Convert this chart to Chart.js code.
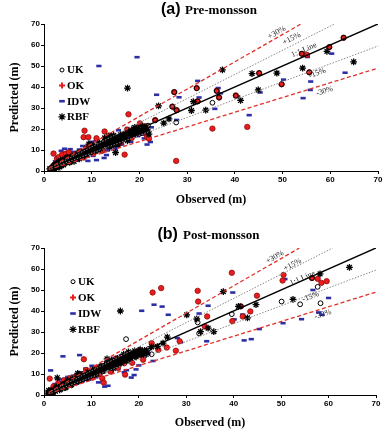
<!DOCTYPE html>
<html><head><meta charset="utf-8">
<script src="https://cdn.jsdelivr.net/npm/chart.js@4/dist/chart.umd.min.js"></script>
<style>
html,body{margin:0;padding:0;background:#fff;}
#wrap{position:relative;width:387px;height:433px;overflow:hidden;}
canvas{position:absolute;left:0;}
#c1{top:0}
#c2{top:216px}
</style></head><body>
<div id="wrap"><canvas id="c1" width="387" height="216"></canvas><canvas id="c2" width="387" height="217"></canvas></div>
<script>
// ---------- DATA ----------
const seriesNames = ['UK','OK','IDW','RBF'];
const refSlopes = [1.3, 1.15, 1, 0.85, 0.7];
const refLabels = ['+30%', '+15%', '1:1 Line', '-15%', '-30%'];
const axisMin = 0, axisMax = 70, axisStep = 10;

// (a) Pre-monsoon
const preUK = [[1.3,1.2],[1.8,2.3],[2.4,2.0],[2.9,3.6],[3.4,3.0],[3.9,4.6],[4.5,5.2],[5.1,4.4],[5.7,6.3],[6.3,6.9],[7.0,6.1],[7.7,8.3],[8.4,7.6],[9.1,9.8],[9.9,8.9],[10.6,11.4],[11.4,10.3],[12.1,12.9],[12.9,11.8],[13.7,14.6],[14.4,13.2],[15.2,15.9],[16.0,14.7],[16.8,17.2],[17.6,16.1],[18.5,19.1],[19.3,17.8],[20.2,20.6],[21.0,19.4],[21.8,21.6],
  [2.1,3.0],[3.6,2.4],[4.8,6.6],[6.0,4.9],[7.3,8.9],[8.8,8.2],[10.2,12.1],[11.8,11.1],[13.3,15.4],[14.8,12.5],[16.4,16.0],[18.0,18.3],[19.8,19.6],[21.4,20.5],
  [23.3,24.1],[26.9,30.6],[27.8,28.9],[27.3,37.5],[32.0,39.4],[32.2,33.1],[35.3,32.5],[27.7,23.1],[36.2,38.1],[36.7,35.0],[40.2,35.8],[45.1,46.6],[49.8,41.3],[54.0,55.8],[55.6,47.0],[59.8,59.0],[62.8,63.4]];
const preOK = [[1.6,1.4],[2.0,8.3],[2.3,3.1],[2.7,5.8],[3.1,6.6],[3.4,4.0],[3.8,7.9],[4.2,5.2],[4.6,8.3],[5.0,6.1],[5.5,7.4],[6.0,5.6],[6.6,8.0],[7.2,7.0],[7.8,9.3],[8.3,6.4],[8.5,19.2],[8.3,16.1],[9.3,16.1],[9.6,10.5],[10.4,8.6],[11.0,15.6],[11.5,11.9],[12.2,9.6],[12.7,18.8],[13.3,14.5],[14.1,12.8],[14.7,16.4],[15.5,14.3],[16.3,17.2],[16.9,7.8],[17.4,19.7],[17.7,27.0],[18.4,15.8],[19.3,20.6],[20.1,22.7],[20.9,18.5],[21.6,16.2],[22.0,15.4],
  [2.9,2.2],[4.0,4.1],[5.2,8.9],[6.8,6.0],[9.0,11.2],[10.9,10.1],[12.9,12.6],[13.8,16.9],[15.9,13.1],[17.9,18.9],[19.7,18.0],[21.2,21.3],
  [23.3,24.3],[27.3,37.6],[26.9,30.7],[27.8,29.0],[27.7,4.8],[32.0,39.5],[32.2,33.2],[35.3,20.2],[36.2,38.2],[36.7,35.0],[40.2,36.0],[42.6,21.0],[45.1,46.6],[49.8,41.3],[54.1,55.8],[55.1,55.3],[55.6,47.0],[59.8,59.0],[62.8,63.5]];
const preIDW = [[1.4,0.6],[1.9,2.2],[2.4,4.6],[2.8,1.9],[3.2,3.4],[3.6,9.6],[4.0,6.9],[4.3,10.6],[4.7,5.1],[5.2,3.6],[5.7,7.8],[6.2,9.1],[6.8,4.9],[7.4,10.2],[7.9,6.1],[8.6,8.5],[9.2,4.8],[9.7,13.9],[10.3,7.2],[11.0,5.2],[11.5,50.0],[11.9,10.8],[12.6,6.2],[13.1,7.6],[13.6,12.3],[14.2,17.1],[14.9,10.4],[15.6,19.4],[16.3,12.6],[16.9,15.2],[17.5,20.4],[18.2,13.9],[18.8,21.1],[19.5,54.2],[19.6,16.6],[20.3,19.3],[21.0,15.5],[21.6,12.6],[22.3,13.8],[22.5,20.8],
  [3.0,5.5],[3.9,8.2],[5.5,10.4],[6.5,7.0],[8.1,11.9],[9.0,6.8],[10.0,9.5],[10.8,14.1],[12.3,13.6],[13.3,9.8],[14.6,15.0],[15.3,11.6],[16.0,16.2],[17.2,17.4],[17.9,15.9],[19.1,18.6],[20.0,21.8],[20.7,17.3],[21.3,19.8],
  [23.6,36.3],[28.3,35.1],[27.5,29.5],[27.8,24.3],[32.2,42.9],[32.5,35.0],[35.8,29.6],[36.5,39.5],[37.0,37.0],[40.6,35.5],[43.0,26.6],[45.3,37.4],[50.2,43.5],[54.3,34.7],[55.8,38.6],[55.9,42.6],[55.2,54.3],[60.3,55.9],[63.1,46.8]];
const preRBF = [[1.2,1.0],[1.5,0.5],[2.0,1.8],[2.3,2.6],[2.6,1.5],[2.8,3.4],[3.0,4.2],[3.2,2.8],[3.5,5.0],[3.8,3.6],[4.0,4.5],[4.3,5.6],[4.6,3.9],[5.0,5.3],[5.3,6.4],[5.6,4.8],[6.0,6.2],[6.4,5.5],[6.8,7.2],[7.2,6.4],[7.6,7.9],[8.0,7.0],[8.5,8.6],[9.0,7.8],[9.4,12.8],[9.8,9.6],[10.3,10.9],[10.8,9.4],[11.3,11.8],[11.8,10.6],[12.4,13.0],[12.9,14.8],[13.3,12.2],[13.6,15.4],[13.9,13.6],[14.2,16.2],[14.5,12.6],[14.8,14.8],[15.0,8.8],[15.3,13.4],[15.7,15.9],[16.2,14.3],[16.6,16.6],[17.2,15.5],[17.8,18.2],[18.3,16.8],[18.8,19.6],[19.2,17.6],[19.8,20.2],[20.4,18.8],[20.9,20.3],[21.5,19.0],[22.0,17.6],
  [2.2,0.8],[2.5,3.3],[3.3,1.9],[3.6,3.1],[4.1,2.9],[4.5,4.6],[4.9,6.2],[5.4,4.1],[5.9,7.1],[6.3,4.6],[6.6,6.5],[7.0,8.1],[7.4,5.8],[7.9,9.0],[8.2,7.6],[8.8,10.2],[9.3,9.0],[10.0,12.5],[10.6,11.6],[11.1,9.9],[11.6,13.4],[12.1,11.8],[12.7,15.8],[13.1,13.9],[13.5,16.6],[13.8,11.4],[14.0,14.7],[14.3,13.2],[14.6,16.9],[15.1,15.6],[15.5,12.4],[16.0,17.2],[16.4,15.0],[17.0,17.8],[17.5,14.4],[18.1,19.0],[18.6,17.4],[19.0,20.8],[19.5,19.1],[20.1,17.9],[20.7,21.3],[21.2,20.4],[21.8,18.9],
  [17.5,39.5],[24.0,31.0],[25.1,22.8],[26.2,24.8],[30.9,28.8],[31.3,33.0],[33.9,29.0],[37.4,48.2],[41.2,33.6],[43.6,46.4],[44.9,38.6],[48.8,46.6],[54.2,49.0],[59.3,57.0],[64.9,52.0]];

// (b) Post-monsoon
const postUK = [[1.0,1.3],[1.5,2.0],[2.1,1.6],[2.7,3.2],[3.3,2.7],[3.9,4.3],[4.6,3.9],[5.3,5.8],[6.0,5.2],[6.7,7.3],[7.4,6.6],[8.2,8.6],[9.0,7.9],[9.8,10.4],[10.7,9.6],[11.5,12.1],[12.3,11.2],[13.2,13.9],[14.0,12.9],[14.9,15.6],[15.7,14.5],[16.6,17.3],[17.5,16.2],[18.4,19.1],[19.3,18.0],[20.2,20.8],[21.1,19.7],[22.0,21.9],
  [2.4,2.9],[4.2,5.3],[5.8,4.6],[7.7,8.0],[9.4,9.0],[11.1,11.0],[12.8,12.5],[14.5,14.2],[16.2,16.0],[18.0,17.6],[19.8,19.4],[21.5,21.0],
  [17.3,26.6],[22.7,19.4],[32.4,34.6],[32.7,29.3],[39.6,38.5],[41.5,42.2],[50.1,44.5],[54.0,43.2],[56.5,55.7],[57.7,51.5],[58.3,43.7]];
const postOK = [[1.2,7.8],[1.5,2.4],[2.0,4.1],[2.5,3.0],[3.0,5.6],[3.6,4.3],[4.2,7.1],[4.8,5.0],[5.4,8.0],[6.0,6.3],[6.6,8.6],[7.2,7.0],[7.9,9.7],[8.4,17.0],[8.9,11.9],[9.5,10.1],[10.2,8.3],[10.9,12.5],[11.6,9.8],[12.3,7.9],[12.6,5.9],[13.2,14.6],[14.0,11.2],[14.8,16.3],[15.6,13.0],[16.4,17.8],[17.1,9.7],[17.9,19.2],[18.6,15.3],[19.4,18.5],[20.1,21.4],[20.9,16.8],[21.5,19.8],
  [3.3,3.6],[5.0,6.5],[7.0,8.9],[9.2,8.8],[11.3,13.0],[13.8,13.3],[15.2,17.4],[16.9,15.1],[18.9,20.4],[20.6,18.9],
  [22.7,24.7],[24.1,21.5],[25.9,22.6],[27.8,21.1],[28.6,25.6],[22.9,48.8],[24.7,50.9],[32.4,49.6],[32.5,44.5],[39.6,58.2],[33.9,32.6],[34.4,37.4],[39.7,35.2],[41.5,42.2],[41.9,37.4],[43.5,39.8],[44.9,47.3],[50.3,54.5],[50.5,57.2],[56.5,55.7],[57.7,55.3],[58.5,53.4],[59.6,54.2]];
const postIDW = [[0.9,0.4],[1.4,11.7],[1.8,1.3],[2.3,5.2],[2.9,2.1],[3.4,7.4],[4.0,18.4],[4.4,3.8],[5.0,8.6],[5.6,4.6],[6.2,9.2],[6.9,5.4],[7.5,19.0],[7.5,10.8],[8.1,6.6],[8.8,12.6],[9.4,7.3],[10.1,13.9],[10.8,8.4],[11.5,6.0],[12.2,14.5],[12.8,4.0],[13.5,4.4],[14.2,10.6],[14.9,17.6],[15.6,12.3],[16.3,18.9],[16.9,10.8],[17.4,11.8],[18.4,8.3],[19.0,9.5],[19.4,12.2],[20.0,14.1],[20.6,19.8],[21.1,18.3],[21.6,21.0],[23.0,16.2],
  [2.6,3.6],[3.8,6.0],[5.3,6.9],[6.6,8.0],[8.4,9.5],[9.8,11.1],[11.0,12.8],[12.6,10.9],[13.9,14.4],[15.2,14.9],[16.6,15.6],[18.0,17.1],[19.7,20.6],[21.9,19.3],
  [20.6,40.1],[23.2,43.0],[24.9,42.1],[26.2,38.2],[28.1,27.1],[28.8,25.1],[32.7,38.8],[34.6,42.5],[34.3,25.6],[39.8,48.8],[40.1,36.0],[41.9,38.3],[42.2,26.0],[43.7,26.6],[45.4,31.4],[50.4,34.2],[50.8,55.2],[54.3,36.1],[56.7,50.0],[57.9,39.3],[58.6,38.2],[60.0,46.2]];
const postRBF = [[0.8,0.5],[1.2,1.6],[1.6,0.9],[2.0,2.5],[2.4,1.8],[2.8,8.2],[3.0,3.1],[3.5,4.0],[3.9,3.2],[4.3,5.1],[4.8,4.3],[5.2,6.0],[5.7,5.1],[6.2,6.8],[6.7,5.9],[7.1,10.3],[7.4,7.6],[7.9,6.9],[8.4,8.9],[8.9,8.0],[9.4,10.1],[9.9,9.2],[10.5,11.3],[11.1,10.1],[11.7,12.6],[12.3,11.4],[12.9,13.8],[13.3,17.2],[13.6,12.9],[14.0,15.0],[14.4,13.6],[14.8,15.9],[15.3,14.4],[15.8,16.7],[16.3,15.2],[16.8,19.4],[17.3,16.3],[17.8,20.5],[18.3,17.6],[18.8,19.9],[19.4,18.4],[20.0,20.3],[20.6,19.0],[21.2,21.2],[21.8,20.1],[22.7,22.9],
  [1.0,2.2],[1.9,1.2],[2.6,3.8],[3.3,2.4],[4.0,4.8],[4.6,3.5],[5.0,7.0],[5.5,5.6],[6.0,7.6],[6.5,6.3],[7.0,8.4],[7.7,7.2],[8.2,9.8],[8.7,8.6],[9.2,11.0],[9.7,9.7],[10.2,12.0],[10.8,10.6],[11.4,11.9],[12.0,13.6],[12.6,12.2],[13.1,14.9],[13.8,14.1],[14.2,16.5],[14.6,12.7],[15.0,14.9],[15.5,17.4],[16.0,15.6],[16.5,17.2],[17.0,18.3],[17.6,17.1],[18.0,19.6],[18.6,18.7],[19.1,21.0],[19.7,19.5],[20.3,21.6],[20.9,20.4],[21.5,19.3],
  [16.1,40.0],[23.9,23.0],[25.1,24.7],[26.0,27.6],[30.1,38.2],[32.2,36.2],[33.0,30.2],[34.6,31.8],[35.8,30.2],[37.8,49.2],[41.0,42.2],[42.9,36.7],[44.7,43.0],[52.5,45.5],[58.2,57.7],[64.4,60.8]];

// line-label anchor points (data units)
const preLabelPos  = [[48.8,65.9],[51.9,63.0],[54.5,57.6],[57.3,46.6],[58.8,38.0]];
const postLabelPos = [[48.7,65.6],[52.4,62.0],[54.5,55.6],[56.2,46.8],[58.8,38.4]];

// ---------- RENDERING ----------
const SERIF = '"Liberation Serif","Times New Roman",serif';
const SANS = '"Liberation Sans",Arial,sans-serif';
const toXY = a => a.map(p => ({x: p[0], y: p[1]}));
const refData = k => { const x0 = 1, x1 = Math.min(axisMax, axisMax / k); return [{x: x0, y: k * x0}, {x: x1, y: k * x1}]; };
const refStyles = [
  {c: '#e0302a', w: 1.3, d: [4, 2.5]},
  {c: '#8a8a8a', w: 1, d: [1.5, 1.5]},
  {c: '#000000', w: 1.5, d: []},
  {c: '#8a8a8a', w: 1, d: [1.5, 1.5]},
  {c: '#e0302a', w: 1.3, d: [4, 2.5]}
];
const markStyles = {
  UK:  {pointStyle: 'circle', pointRadius: 2.4, borderWidth: 1, borderColor: '#000', backgroundColor: 'rgba(0,0,0,0)', order: 2},
  OK:  {pointStyle: 'circle', pointRadius: 2.7, borderWidth: 0.8, borderColor: '#8a0c0c', backgroundColor: '#ec1c1c', order: 3},
  IDW: {pointStyle: 'line', pointRadius: 2.6, borderWidth: 2.6, borderColor: '#2b2fa6', backgroundColor: '#2b2fa6', order: 4},
  RBF: {pointStyle: 'star', pointRadius: 3.4, borderWidth: 1.3, borderColor: '#000', backgroundColor: '#000', order: 1}
};
const legendMarks = {
  UK:  {pointStyle: 'circle', radius: 2, borderWidth: 1, stroke: '#000', fill: 'rgba(0,0,0,0)'},
  OK:  {pointStyle: 'cross', radius: 3, borderWidth: 2, stroke: '#ec1c1c', fill: '#ec1c1c'},
  IDW: {pointStyle: 'line', radius: 2.8, borderWidth: 2.6, stroke: '#2b2fa6', fill: '#2b2fa6'},
  RBF: {pointStyle: 'star', radius: 3.6, borderWidth: 1.2, stroke: '#000', fill: '#000'}
};

function makeChart(id, cfg) {
  const datasets = [];
  refSlopes.forEach((k, i) => {
    const s = refStyles[i];
    datasets.push({type: 'scatter', data: refData(k), showLine: true, pointRadius: 0, borderColor: s.c,
      borderWidth: s.w, borderDash: s.d, order: 0, fill: false});
  });
  seriesNames.forEach((n, i) => {
    const st = markStyles[n];
    datasets.push(Object.assign({label: n, data: toXY(cfg.series[i]), pointHoverRadius: st.pointRadius}, st));
  });

  const overlay = {
    id: 'overlay',
    afterDraw(chart) {
      const ctx = chart.ctx, xs = chart.scales.x, ys = chart.scales.y;
      ctx.save();
      ctx.fillStyle = '#000';
      ctx.textBaseline = 'alphabetic';
      ctx.textAlign = 'left';
      ctx.font = 'bold 16px ' + SANS;
      ctx.fillText(cfg.tag, cfg.titleX, cfg.titleY);
      ctx.font = 'bold 13px ' + SERIF;
      ctx.fillText(cfg.title, cfg.titleX2, cfg.titleY);
      const ratio = (ys.getPixelForValue(0) - ys.getPixelForValue(1)) / (xs.getPixelForValue(1) - xs.getPixelForValue(0));
      ctx.font = '8px ' + SERIF;
      ctx.fillStyle = '#222';
      ctx.textAlign = 'center';
      ctx.textBaseline = 'middle';
      cfg.labelPos.forEach((p, i) => {
        ctx.save();
        ctx.translate(xs.getPixelForValue(p[0]), ys.getPixelForValue(p[1]));
        ctx.rotate(-Math.atan(refSlopes[i] * ratio));
        ctx.fillText(refLabels[i], 0, 0);
        ctx.restore();
      });
      seriesNames.forEach((n, i) => {
        const m = legendMarks[n];
        const y = cfg.legY + i * cfg.legGap;
        ctx.save();
        ctx.strokeStyle = m.stroke; ctx.fillStyle = m.fill; ctx.lineWidth = m.borderWidth;
        Chart.helpers.drawPoint(ctx, {pointStyle: m.pointStyle, radius: m.radius, borderWidth: m.borderWidth, rotation: 0}, cfg.legX, y);
        ctx.restore();
        ctx.fillStyle = '#000';
        ctx.textAlign = 'left';
        ctx.textBaseline = 'middle';
        ctx.font = 'bold 11px ' + SERIF;
        ctx.fillText(n, cfg.legX + 5, y + 0.5);
      });
      ctx.restore();
    }
  };

  const axis = (title, isY) => ({
    type: 'linear', min: axisMin, max: axisMax,
    ticks: {stepSize: axisStep, color: '#000', padding: 1, font: {family: SANS, size: 8, weight: 'bold'}, maxRotation: 0, autoSkip: false},
    grid: {display: true, drawOnChartArea: false, drawTicks: true, tickLength: 3, color: '#000', lineWidth: 1},
    border: {display: true, color: '#000', width: 1},
    title: {display: true, text: title, color: '#000', font: {family: SERIF, size: 12, weight: 'bold'},
      padding: isY ? {top: cfg.yTitlePad, bottom: 0} : {top: 0, bottom: cfg.xTitlePad}},
    afterFit: s => { if (isY) s.width = cfg.yAxisW; else s.height = cfg.xAxisH; }
  });

  return new Chart(document.getElementById(id), {
    type: 'scatter',
    data: {datasets},
    options: {
      responsive: false, animation: false, devicePixelRatio: 1,
      layout: {padding: {top: cfg.padTop, right: cfg.padRight, left: 0, bottom: 0}},
      plugins: {legend: {display: false}, tooltip: {enabled: false}, title: {display: false}},
      scales: {x: axis('Observed (m)', false), y: axis('Predicted (m)', true)}
    },
    plugins: [overlay]
  });
}

makeChart('c1', {
  series: [preUK, preOK, preIDW, preRBF], labelPos: preLabelPos,
  tag: '(a)', title: 'Pre-monsson', titleX: 161, titleX2: 185, titleY: 13.5,
  padTop: 24, padRight: 9, yAxisW: 44, xAxisH: 45, yTitlePad: 7.5, xTitlePad: 8.5,
  legX: 62, legY: 70, legGap: 15.6
});
makeChart('c2', {
  series: [postUK, postOK, postIDW, postRBF], labelPos: postLabelPos,
  tag: '(b)', title: 'Post-monsson', titleX: 157.5, titleX2: 183, titleY: 22.5,
  padTop: 32, padRight: 11, yAxisW: 44, xAxisH: 38, yTitlePad: 7.5, xTitlePad: 3,
  legX: 73, legY: 65.7, legGap: 15.9
});
</script>
</body></html>
